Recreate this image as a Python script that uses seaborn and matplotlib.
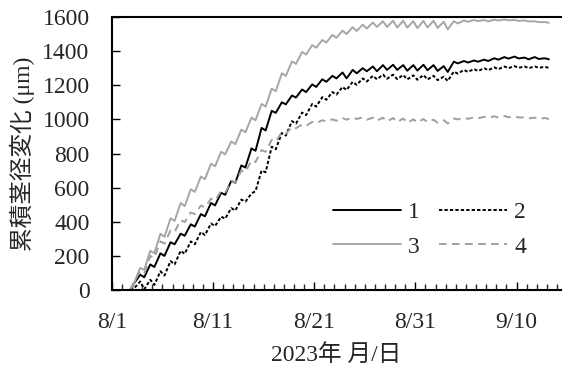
import numpy as np
import pandas as pd
import matplotlib
matplotlib.use('Agg')
import matplotlib.pyplot as plt
from matplotlib.ticker import MultipleLocator
import seaborn as sns

# 日付 (8/1 からの日数)
days = list(range(2, 44))

# 1 (黒・実線)
peak_1 = [0, 90, 150, 215, 280, 330, 385, 445, 510, 570, 640, 730, 830, 950,
          1050, 1100, 1140, 1175, 1205, 1235, 1255, 1275, 1290, 1300, 1310, 1318,
          1320, 1318, 1318, 1320, 1318, 1312, 1338, 1342, 1345, 1350, 1358, 1365,
          1368, 1362, 1365, 1358]
dip_1 = [40, 75, 135, 200, 268, 318, 372, 432, 496, 558, 628, 718, 816, 935,
         1038, 1088, 1128, 1160, 1190, 1220, 1240, 1240, 1270, 1282, 1282, 1290,
         1290, 1285, 1286, 1288, 1284, 1278, 1328, 1333, 1338, 1342, 1350, 1356,
         1357, 1352, 1354, 1352]

# 2 (黒・破線)
peak_2 = [0, 50, 60, 110, 170, 230, 285, 340, 390, 430, 480, 530, 565, 700,
          840, 920, 990, 1040, 1090, 1130, 1160, 1190, 1220, 1240, 1255, 1262,
          1262, 1260, 1258, 1260, 1255, 1250, 1280, 1290, 1295, 1300, 1305, 1310,
          1312, 1310, 1310, 1308]
dip_2 = [10, 5, 30, 85, 150, 212, 268, 322, 375, 418, 466, 518, 580, 690,
         825, 905, 975, 1025, 1075, 1115, 1145, 1172, 1202, 1222, 1235, 1238,
         1236, 1234, 1232, 1234, 1230, 1225, 1268, 1278, 1283, 1288, 1294, 1300,
         1302, 1300, 1302, 1302]

# 3 (灰・実線)
peak_3 = [0, 130, 230, 330, 420, 510, 590, 665, 740, 810, 870, 940, 1010, 1090,
          1180, 1270, 1340, 1395, 1435, 1465, 1495, 1520, 1540, 1555, 1568, 1575,
          1578, 1578, 1576, 1577, 1578, 1572, 1575, 1580, 1582, 1582, 1584, 1585,
          1583, 1580, 1575, 1570]
dip_3 = [40, 118, 215, 312, 405, 492, 575, 650, 725, 795, 855, 925, 995, 1075,
         1165, 1255, 1325, 1380, 1420, 1450, 1478, 1500, 1518, 1532, 1542, 1542,
         1538, 1538, 1535, 1538, 1536, 1528, 1562, 1572, 1576, 1574, 1579, 1580,
         1577, 1574, 1570, 1566]

# 4 (灰・破線)
peak_4 = [0, 110, 200, 285, 350, 410, 455, 495, 535, 580, 640, 700, 760, 820,
          880, 925, 955, 970, 985, 995, 1000, 1008, 1012, 1012, 1010, 1010,
          1008, 1005, 1000, 1002, 998, 995, 1005, 1010, 1012, 1015, 1018, 1020,
          1018, 1012, 1010, 1008]
dip_4 = [50, 98, 188, 272, 340, 398, 445, 485, 525, 570, 628, 690, 750, 810,
         870, 915, 948, 962, 978, 988, 992, 998, 1002, 998, 992, 988, 984, 980,
         982, 984, 980, 976, 1000, 1003, 1006, 1009, 1011, 1012, 1011, 1006,
         1003, 1002]

series_names = ['1', '2', '3', '4']
tick_days = [0, 10, 20, 30, 40]
tick_labels = ['8/1', '8/11', '8/21', '8/31', '9/10']

# long形式のデータフレームを作成
rows = []
for name, pk, dp in zip(series_names, [peak_1, peak_2, peak_3, peak_4],
                        [dip_1, dip_2, dip_3, dip_4]):
    for d, p, q in zip(days, pk, dp):
        rows.append((name, d - 0.2, p))
        rows.append((name, d + 0.2, q))
df = pd.DataFrame(rows, columns=['series', 'day', 'value'])

sns.set_style('ticks')
plt.rcParams['font.family'] = ['Liberation Serif', 'Noto Sans CJK JP']
plt.rcParams['font.size'] = 17

fig = plt.figure(figsize=(5.65, 3.69), dpi=100)
ax = fig.add_axes([0.198, 0.214, 0.795, 0.740])

palette = {'1': 'black', '2': 'black', '3': '#a6a6a6', '4': '#a0a0a0'}
dashes = {'1': '', '2': (1.7, 1.1), '3': '', '4': (3.9, 2.8)}
sns.lineplot(data=df, x='day', y='value', hue='series', style='series',
             palette=palette, dashes=dashes, estimator=None, errorbar=None,
             linewidth=1.4, ax=ax)

ax.set_xlim(0, 44.4)
ax.set_ylim(0, 1600)
ax.set_xticks(tick_days)
ax.set_xticklabels(tick_labels)
ax.xaxis.set_minor_locator(MultipleLocator(1))
ax.yaxis.set_major_locator(MultipleLocator(200))
ax.tick_params(axis='both', which='major', direction='in', length=6, width=1,
               labelsize=17, color='black')
ax.tick_params(axis='x', which='minor', direction='in', length=4, width=1)
ax.tick_params(axis='x', which='major', pad=16)
ax.tick_params(axis='y', which='major', pad=16)
ax.spines['right'].set_visible(False)
for s in ['left', 'bottom', 'top']:
    ax.spines[s].set_linewidth(1.5)
    ax.spines[s].set_color('black')

ax.set_xlabel('2023年 月/日', fontsize=17, labelpad=8)
ax.set_ylabel('累積茎径変化 (μm)', fontsize=17, labelpad=5)

handles, labels = ax.get_legend_handles_labels()
hmap = dict(zip(labels, handles))
order = ['1', '3', '2', '4']
ax.legend([hmap[k] for k in order], order, ncol=2, frameon=False,
          loc='center left', bbox_to_anchor=(0.444, 0.221), handlelength=2.9,
          handletextpad=0.3, columnspacing=0.8, labelspacing=0.55, fontsize=17)

fig.savefig('out.png', dpi=100)
